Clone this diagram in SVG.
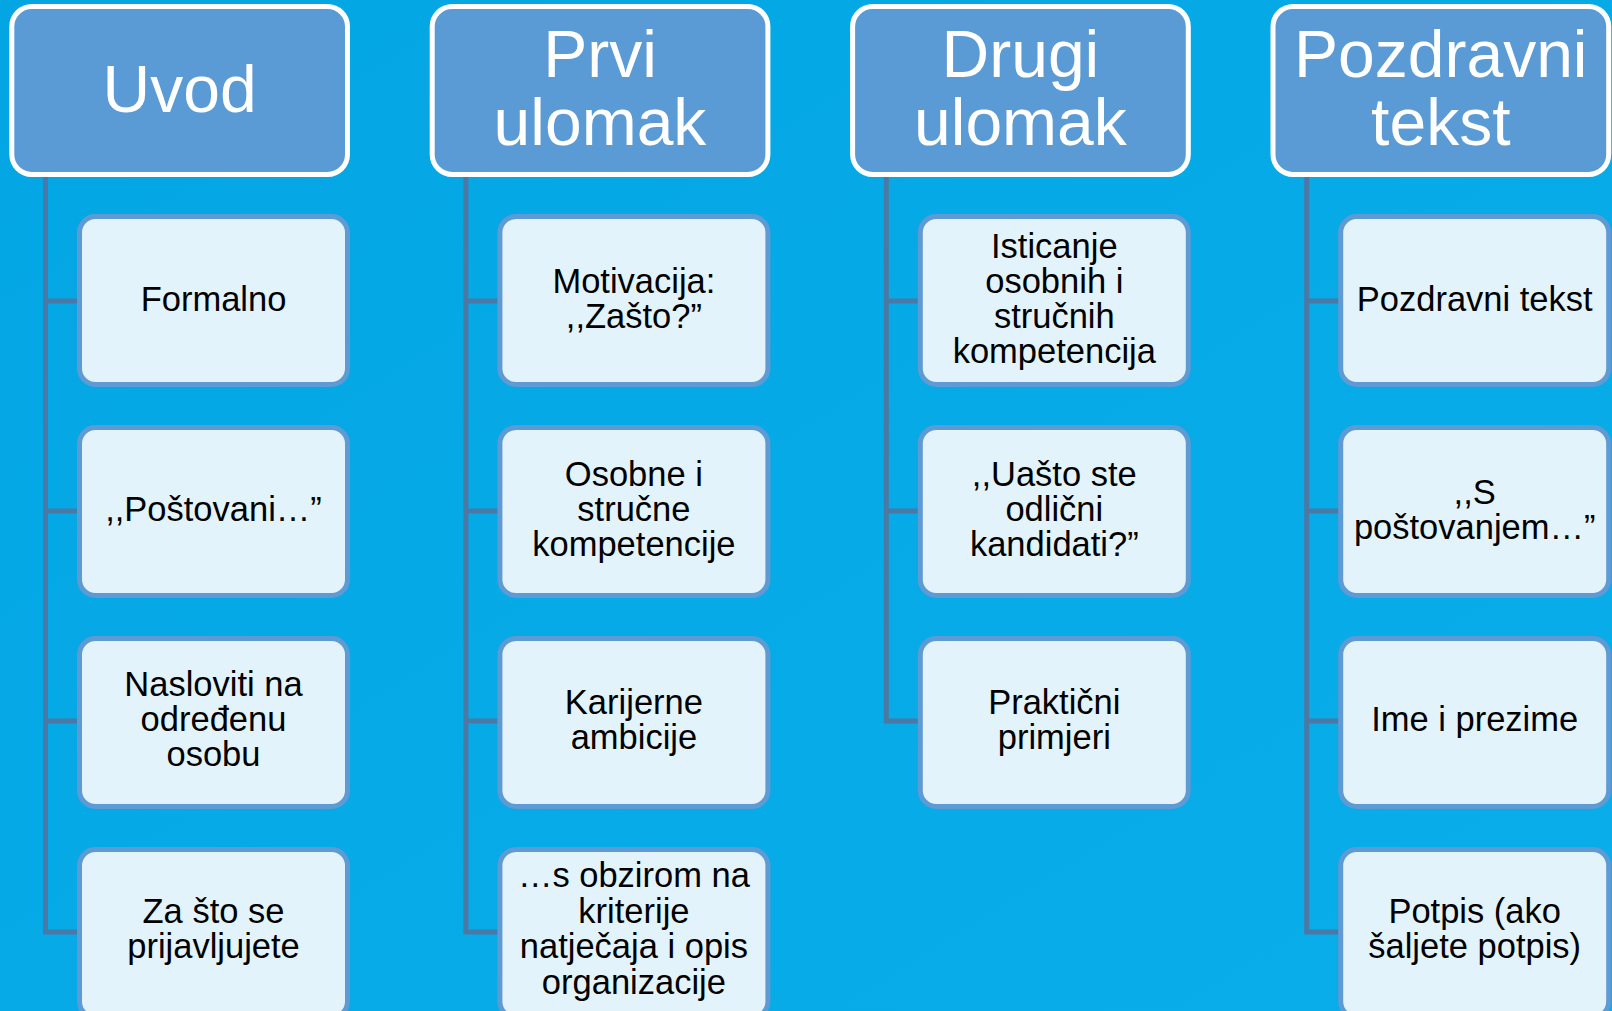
<svg xmlns="http://www.w3.org/2000/svg" width="1612" height="1011" viewBox="0 0 1612 1011">
<defs>
<linearGradient id="bgg" x1="0" y1="0" x2="1" y2="1">
<stop offset="0" stop-color="#03a6e3"/>
<stop offset="0.5" stop-color="#06aae6"/>
<stop offset="1" stop-color="#08ade9"/>
</linearGradient>
<style>
.hdr{fill:#5b9bd5;stroke:#ffffff;stroke-width:5}
.child{fill:#e3f3fb;stroke:#5e9ad3;stroke-width:5}
.conn{fill:none;stroke:#4a79a6;stroke-width:5;stroke-linejoin:miter;stroke-linecap:butt}
.ht{font-family:"Liberation Sans",Arial,sans-serif;font-size:66px;fill:#ffffff;text-anchor:middle}
.ct{font-family:"Liberation Sans",Arial,sans-serif;font-size:34.5px;fill:#000000;text-anchor:middle}
</style>
</defs>
<rect x="0" y="0" width="1612" height="1011" fill="url(#bgg)"/>

<g id="connectors">
<path class="conn" d="M45.5 174 V932 H80 M45.5 301 H80 M45.5 511 H80 M45.5 721 H80"/>
<path class="conn" d="M465.9 174 V932 H500 M465.9 301 H500 M465.9 511 H500 M465.9 721 H500"/>
<path class="conn" d="M886.3 174 V721 H921 M886.3 301 H921 M886.3 511 H921"/>
<path class="conn" d="M1306.7 174 V932 H1341 M1306.7 301 H1341 M1306.7 511 H1341 M1306.7 721 H1341"/>
</g>

<!-- Column 1 -->
<g id="h-uvod">
<rect class="hdr" x="11.8" y="6.5" width="335.7" height="168" rx="20"/>
<text class="ht" x="179.6" y="111.7">Uvod</text>
</g>
<g id="c1-1">
<rect class="child" x="79.5" y="216.5" width="268" height="168" rx="16"/>
<text class="ct" x="213.5" y="310.5">Formalno</text>
</g>
<g id="c1-2">
<rect class="child" x="79.5" y="427.5" width="268" height="168" rx="16"/>
<text class="ct" x="213.5" y="521">,,Poštovani…”</text>
</g>
<g id="c1-3">
<rect class="child" x="79.5" y="638.5" width="268" height="168" rx="16"/>
<text class="ct"><tspan x="213.5" y="696">Nasloviti na</tspan><tspan x="213.5" y="731">određenu</tspan><tspan x="213.5" y="766">osobu</tspan></text>
</g>
<g id="c1-4">
<rect class="child" x="79.5" y="849.5" width="268" height="168" rx="16"/>
<text class="ct"><tspan x="213.5" y="923.3">Za što se</tspan><tspan x="213.5" y="958.3">prijavljujete</tspan></text>
</g>

<!-- Column 2 -->
<g id="h-prvi">
<rect class="hdr" x="432.2" y="6.5" width="335.7" height="168" rx="20"/>
<text class="ht"><tspan x="600" y="76.7">Prvi</tspan><tspan x="600" y="145">ulomak</tspan></text>
</g>
<g id="c2-1">
<rect class="child" x="499.9" y="216.5" width="268" height="168" rx="16"/>
<text class="ct"><tspan x="633.9" y="293">Motivacija:</tspan><tspan x="633.9" y="328">,,Zašto?”</tspan></text>
</g>
<g id="c2-2">
<rect class="child" x="499.9" y="427.5" width="268" height="168" rx="16"/>
<text class="ct"><tspan x="633.9" y="486">Osobne i</tspan><tspan x="633.9" y="521">stručne</tspan><tspan x="633.9" y="556">kompetencije</tspan></text>
</g>
<g id="c2-3">
<rect class="child" x="499.9" y="638.5" width="268" height="168" rx="16"/>
<text class="ct"><tspan x="633.9" y="713.5">Karijerne</tspan><tspan x="633.9" y="748.5">ambicije</tspan></text>
</g>
<g id="c2-4">
<rect class="child" x="499.9" y="849.5" width="268" height="168" rx="16"/>
<text class="ct"><tspan x="633.9" y="887">…s obzirom na</tspan><tspan x="633.9" y="923">kriterije</tspan><tspan x="633.9" y="958.3">natječaja i opis</tspan><tspan x="633.9" y="993.5">organizacije</tspan></text>
</g>

<!-- Column 3 -->
<g id="h-drugi">
<rect class="hdr" x="852.6" y="6.5" width="335.7" height="168" rx="20"/>
<text class="ht"><tspan x="1020.4" y="76.7">Drugi</tspan><tspan x="1020.4" y="145">ulomak</tspan></text>
</g>
<g id="c3-1">
<rect class="child" x="920.3" y="216.5" width="268" height="168" rx="16"/>
<text class="ct"><tspan x="1054.3" y="258">Isticanje</tspan><tspan x="1054.3" y="293">osobnih i</tspan><tspan x="1054.3" y="328">stručnih</tspan><tspan x="1054.3" y="363">kompetencija</tspan></text>
</g>
<g id="c3-2">
<rect class="child" x="920.3" y="427.5" width="268" height="168" rx="16"/>
<text class="ct"><tspan x="1054.3" y="486">,,Uašto ste</tspan><tspan x="1054.3" y="521">odlični</tspan><tspan x="1054.3" y="556">kandidati?”</tspan></text>
</g>
<g id="c3-3">
<rect class="child" x="920.3" y="638.5" width="268" height="168" rx="16"/>
<text class="ct"><tspan x="1054.3" y="713.5">Praktični</tspan><tspan x="1054.3" y="748.5">primjeri</tspan></text>
</g>

<!-- Column 4 -->
<g id="h-pozdravni">
<rect class="hdr" x="1273" y="6.5" width="335.7" height="168" rx="20"/>
<text class="ht"><tspan x="1440.8" y="76.7">Pozdravni</tspan><tspan x="1440.8" y="145">tekst</tspan></text>
</g>
<g id="c4-1">
<rect class="child" x="1340.7" y="216.5" width="268" height="168" rx="16"/>
<text class="ct" x="1474.7" y="310.5">Pozdravni tekst</text>
</g>
<g id="c4-2">
<rect class="child" x="1340.7" y="427.5" width="268" height="168" rx="16"/>
<text class="ct"><tspan x="1474.7" y="503.5">,,S</tspan><tspan x="1474.7" y="538.5">poštovanjem…”</tspan></text>
</g>
<g id="c4-3">
<rect class="child" x="1340.7" y="638.5" width="268" height="168" rx="16"/>
<text class="ct" x="1474.7" y="731">Ime i prezime</text>
</g>
<g id="c4-4">
<rect class="child" x="1340.7" y="849.5" width="268" height="168" rx="16"/>
<text class="ct"><tspan x="1474.7" y="923.3">Potpis (ako</tspan><tspan x="1474.7" y="958.3">šaljete potpis)</tspan></text>
</g>
</svg>
